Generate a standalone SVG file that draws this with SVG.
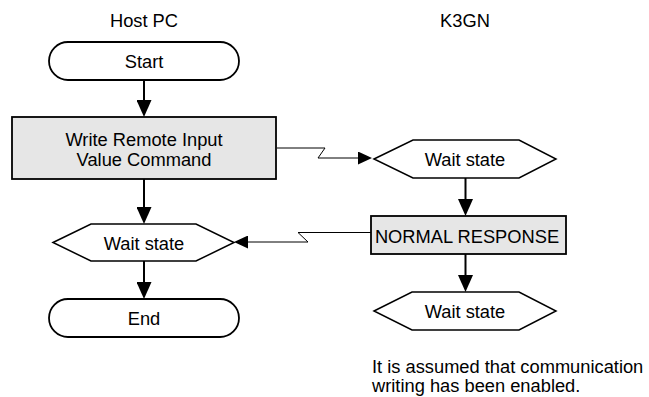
<svg xmlns="http://www.w3.org/2000/svg" width="649" height="397" viewBox="0 0 649 397">
<style>
text{font-family:"Liberation Sans",Arial,sans-serif;font-size:18.3px;fill:#000}
.c{text-anchor:middle}
.term{fill:#fff;stroke:#000;stroke-width:1.8}
.proc{fill:#e6e6e6;stroke:#000;stroke-width:1.8}
.hex{fill:#fff;stroke:#000;stroke-width:1.5}
.v{fill:none;stroke:#000;stroke-width:2;marker-end:url(#ah)}
.z{fill:none;stroke:#000;stroke-width:1;marker-end:url(#ahs)}
</style>
<defs>
<marker id="ah" markerUnits="userSpaceOnUse" markerWidth="17" markerHeight="15" refX="12" refY="7.5" orient="auto">
<path d="M0,0 L17,7.5 L0,15 z" fill="#000"/>
</marker>
<marker id="ahs" markerUnits="userSpaceOnUse" markerWidth="14" markerHeight="13" refX="10" refY="6.5" orient="auto">
<path d="M0,0 L14,6.5 L0,13 z" fill="#000"/>
</marker>
</defs>
<text class="c" x="144" y="27">Host PC</text>
<text class="c" x="465" y="27">K3GN</text>
<g id="connectors">
<path class="v" d="M144,80 V112"/>
<path class="v" d="M144,179 V219"/>
<path class="v" d="M144,261 V294"/>
<path class="v" d="M465.5,178 V211"/>
<path class="v" d="M465.5,254 V287"/>
<path class="z" d="M277,148 H325 L318,158 H368"/>
<path class="z" d="M371,232.5 H298 L308,242 H238"/>
</g>
<g id="start">
<rect class="term" x="49" y="42" width="190" height="38" rx="19"/>
<text class="c" x="144" y="68">Start</text>
</g>
<g id="write">
<rect class="proc" x="12" y="117" width="264" height="62"/>
<text class="c" x="144" y="146">Write Remote Input</text>
<text class="c" x="144" y="166">Value Command</text>
</g>
<g id="wait-host">
<polygon class="hex" points="53,242.5 91,224 196,224 234,242.5 196,261 91,261"/>
<text class="c" x="144" y="250">Wait state</text>
</g>
<g id="end">
<rect class="term" x="49" y="299" width="190" height="38" rx="19"/>
<text class="c" x="144" y="325">End</text>
</g>
<g id="wait-k3gn-1">
<polygon class="hex" points="374,159 413,140 519,140 556,159 519,178 413,178"/>
<text class="c" x="465" y="166">Wait state</text>
</g>
<g id="normal-response">
<rect class="proc" x="371" y="216" width="195" height="38"/>
<text class="c" x="467" y="243">NORMAL RESPONSE</text>
</g>
<g id="wait-k3gn-2">
<polygon class="hex" points="374,311 412,292 519,292 556,311 519,330 412,330"/>
<text class="c" x="465" y="318">Wait state</text>
</g>
<g id="note">
<text x="372" y="373">It is assumed that communication</text>
<text x="372" y="392">writing has been enabled.</text>
</g>
</svg>
